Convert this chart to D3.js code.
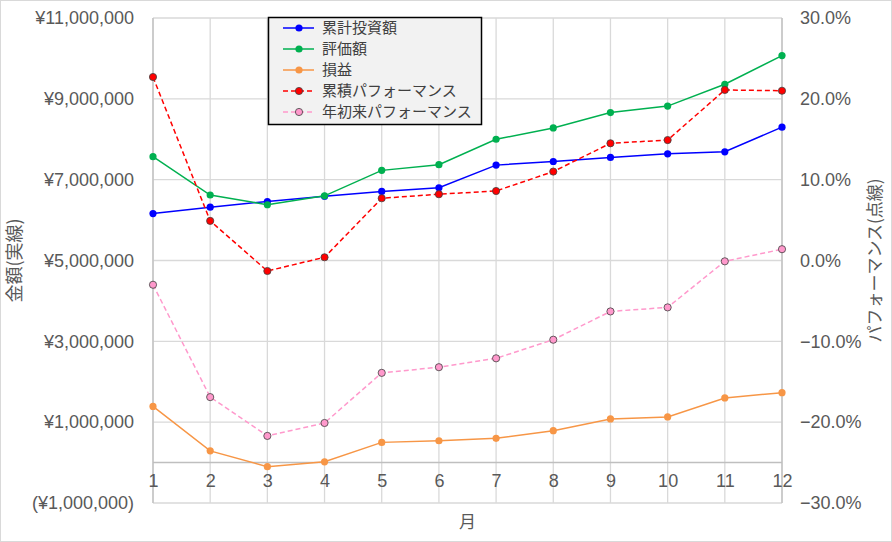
<!DOCTYPE html>
<html>
<head>
<meta charset="utf-8">
<script src="https://cdn.jsdelivr.net/npm/d3@7"></script>
<style>
  body { margin: 0; background: #fff; }
  svg { display: block; font-family: "Liberation Sans", "Noto Sans CJK JP", sans-serif; }
</style>
</head>
<body>
<svg id="chart" width="892" height="542"></svg>
<script>
// months on the x axis
const months = [1, 2, 3, 4, 5, 6, 7, 8, 9, 10, 11, 12];

// amounts in yen (solid lines, left axis)
const invested = [6160000, 6320000, 6460000, 6590000, 6710000, 6800000, 7360000, 7450000, 7550000, 7640000, 7690000, 8300000];
const valuation = [7570000, 6620000, 6380000, 6600000, 7230000, 7370000, 8000000, 8280000, 8660000, 8820000, 9360000, 10070000];
const profit = [1390000, 290000, -100000, 20000, 500000, 540000, 600000, 790000, 1080000, 1130000, 1600000, 1730000];

// performance in % (dashed lines, right axis)
const cumPerf = [22.7, 4.9, -1.3, 0.4, 7.7, 8.2, 8.6, 11.0, 14.5, 14.9, 21.1, 21.0];
const ytdPerf = [-3.0, -16.9, -21.7, -20.1, -13.9, -13.2, -12.1, -9.8, -6.3, -5.8, -0.1, 1.4];

const leftTicks = [-1000000, 1000000, 3000000, 5000000, 7000000, 9000000, 11000000];
const rightTicks = [-30, -20, -10, 0, 10, 20, 30];

const series = [
  { name: "累計投資額", values: invested, axis: "left", color: "#0000ff", dash: null, fill: "#0000ff", stroke: "#0000ff" },
  { name: "評価額", values: valuation, axis: "left", color: "#00b050", dash: null, fill: "#00b050", stroke: "#00b050" },
  { name: "損益", values: profit, axis: "left", color: "#f79646", dash: null, fill: "#f79646", stroke: "#f79646" },
  { name: "累積パフォーマンス", values: cumPerf, axis: "right", color: "#ff0000", dash: "5,3", fill: "#ff0000", stroke: "#404040" },
  { name: "年初来パフォーマンス", values: ytdPerf, axis: "right", color: "#ff99cc", dash: "5,3", fill: "#ff99cc", stroke: "#404040" }
];

const svg = d3.select("#chart");
const W = 892, H = 542;
const margin = { top: 18, right: 110, bottom: 39, left: 153 };
const plotW = W - margin.left - margin.right;
const plotH = H - margin.top - margin.bottom;

// outer chart border
svg.append("rect")
  .attr("x", 0.5).attr("y", 0.5)
  .attr("width", W - 1).attr("height", H - 1)
  .attr("fill", "#fff").attr("stroke", "#d9d9d9");

const g = svg.append("g").attr("transform", `translate(${margin.left},${margin.top})`);

const x = d3.scalePoint().domain(months).range([0, plotW]);
const yL = d3.scaleLinear().domain([-1000000, 11000000]).range([plotH, 0]);
const yR = d3.scaleLinear().domain([-30, 30]).range([plotH, 0]);

// horizontal gridlines
g.append("g")
  .selectAll("line")
  .data(leftTicks)
  .join("line")
    .attr("x1", 0).attr("x2", plotW)
    .attr("y1", d => yL(d)).attr("y2", d => yL(d))
    .attr("stroke", "#d9d9d9").attr("stroke-width", 1.3);

// vertical gridlines
g.append("g")
  .selectAll("line")
  .data(months)
  .join("line")
    .attr("x1", d => x(d)).attr("x2", d => x(d))
    .attr("y1", 0).attr("y2", plotH)
    .attr("stroke", "#d9d9d9").attr("stroke-width", 1.3);

// zero line (category axis)
g.append("line")
  .attr("x1", 0).attr("x2", plotW)
  .attr("y1", yL(0)).attr("y2", yL(0))
  .attr("stroke", "#bfbfbf").attr("stroke-width", 1.5);

// side axis lines
g.append("line").attr("x1", 0).attr("x2", 0).attr("y1", 0).attr("y2", plotH)
  .attr("stroke", "#bfbfbf").attr("stroke-width", 1.3);
g.append("line").attr("x1", plotW).attr("x2", plotW).attr("y1", 0).attr("y2", plotH)
  .attr("stroke", "#bfbfbf").attr("stroke-width", 1.3);

// left axis labels
const yen = d => d < 0 ? `(¥${d3.format(",")(-d)})` : `¥${d3.format(",")(d)}`;
const leftAxis = g.append("g")
  .call(d3.axisLeft(yL).tickValues(leftTicks).tickFormat(yen).tickSize(0).tickPadding(19));
leftAxis.select(".domain").remove();
leftAxis.selectAll("text").attr("font-size", 18).attr("fill", "#595959")
  .attr("font-family", "Liberation Sans, Noto Sans CJK JP, sans-serif");

// right axis labels
const rightAxis = g.append("g")
  .attr("transform", `translate(${plotW},0)`)
  .call(d3.axisRight(yR).tickValues(rightTicks).tickFormat(d => d3.format(".1f")(d) + "%").tickSize(0).tickPadding(18));
rightAxis.select(".domain").remove();
rightAxis.selectAll("text").attr("font-size", 18).attr("fill", "#595959");

// month labels below the zero line
const bottomAxis = g.append("g")
  .attr("transform", `translate(0,${yL(0)})`)
  .call(d3.axisBottom(x).tickSize(0).tickPadding(12));
bottomAxis.select(".domain").remove();
bottomAxis.selectAll("text").attr("font-size", 18).attr("fill", "#595959");

// axis titles
svg.append("text")
  .attr("transform", `translate(21,${margin.top + plotH / 2}) rotate(-90)`)
  .attr("text-anchor", "middle")
  .attr("font-family", "Noto Sans CJK JP")
  .attr("font-size", 18).attr("fill", "#595959")
  .text("金額(実線)");

svg.append("text")
  .attr("transform", `translate(881,${margin.top + plotH / 2}) rotate(-90)`)
  .attr("text-anchor", "middle")
  .attr("font-family", "Noto Sans CJK JP")
  .attr("font-size", 17).attr("fill", "#595959")
  .text("パフォーマンス(点線)");

svg.append("text")
  .attr("x", margin.left + plotW / 2).attr("y", 528)
  .attr("text-anchor", "middle")
  .attr("font-family", "Noto Sans CJK JP")
  .attr("font-size", 17).attr("fill", "#595959")
  .text("月");

// lines and markers
series.forEach(s => {
  const yScale = s.axis === "left" ? yL : yR;
  const line = d3.line()
    .x((d, i) => x(months[i]))
    .y(d => yScale(d));

  g.append("path")
    .datum(s.values)
    .attr("fill", "none")
    .attr("stroke", s.color)
    .attr("stroke-width", 1.5)
    .attr("stroke-dasharray", s.dash)
    .attr("d", line);

  g.append("g")
    .selectAll("circle")
    .data(s.values)
    .join("circle")
      .attr("cx", (d, i) => x(months[i]))
      .attr("cy", d => yScale(d))
      .attr("r", 3.6)
      .attr("fill", s.fill)
      .attr("stroke", s.stroke)
      .attr("stroke-width", s.axis === "right" ? 0.8 : 0);
});

// legend
const legend = svg.append("g").attr("transform", "translate(268,17)");
legend.append("rect")
  .attr("x", 0.5).attr("y", 0.5)
  .attr("width", 213).attr("height", 107)
  .attr("fill", "#f2f2f2").attr("stroke", "#000").attr("stroke-width", 1.5);

const items = legend.selectAll("g.item")
  .data(series)
  .join("g")
    .attr("class", "item")
    .attr("transform", (d, i) => `translate(0,${11 + i * 21})`);

items.append("line")
  .attr("x1", 15).attr("x2", 46)
  .attr("stroke", d => d.color).attr("stroke-width", 1.5)
  .attr("stroke-dasharray", d => d.dash);
items.append("circle")
  .attr("cx", 31).attr("r", 3.6)
  .attr("fill", d => d.fill)
  .attr("stroke", d => d.stroke)
  .attr("stroke-width", d => d.axis === "right" ? 0.8 : 0);
items.append("text")
  .attr("x", 54).attr("dy", "0.35em")
  .attr("font-family", "Noto Sans CJK JP")
  .attr("font-size", 15).attr("fill", "#404040")
  .text(d => d.name);
</script>
</body>
</html>
